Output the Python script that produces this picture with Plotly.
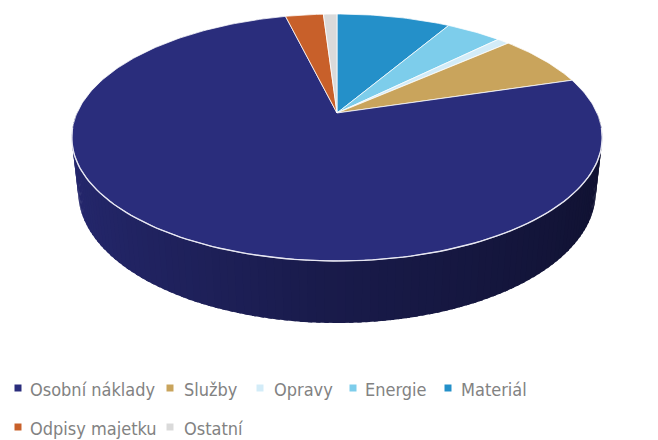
import numpy as np
import plotly.graph_objects as go

# ---- data ----
categories = ["Osobní náklady", "Služby", "Opravy", "Energie", "Materiál", "Odpisy majetku", "Ostatní"]
values = [76.0, 6.9, 0.9, 4.1, 8.4, 2.8, 1.0]
colors = ["#2a2d7c", "#c9a45c", "#d3ecf8", "#7dcdeb", "#2490c9", "#c8602a", "#dadada"]
# slice order going clockwise from 12 o'clock on the pie
draw_order = ["Materiál", "Energie", "Opravy", "Služby", "Osobní náklady", "Odpisy majetku", "Ostatní"]

# ---- layout geometry (page body has an 8px offset) ----
OFF = 8.0
W, H = 658 - 8, 440 - 8
CX, CY = 337.0 - OFF, 113.0 - OFF      # apex position
SCALE = 260.0
SIN_A, COS_A = 0.4563, 0.8898
DIST = 4.485
DEPTH = 0.2367

# legend placement: (swatch x, text x, row y) in page pixels
legend_pos = [(18, 28, 389), (170, 182, 389), (260, 272, 389), (353, 363, 389),
              (448, 459, 389), (18, 28, 428), (170, 182, 428)]
FONT = "DejaVu Sans Condensed, Liberation Sans Narrow, Roboto, sans-serif"


def proj(theta_deg, r=1.0, y=0.0):
    t = np.radians(theta_deg)
    X = r * np.sin(t)
    Z = r * np.cos(t)
    v = y * COS_A + Z * SIN_A
    w = Z * COS_A - y * SIN_A
    f = DIST / (DIST + w)
    return CX + SCALE * X * f, CY - SCALE * v * f


def hex_to_rgb(h):
    h = h.lstrip("#")
    return tuple(int(h[i:i + 2], 16) for i in (0, 2, 4))


def shade(hexcol, k):
    r, g, b = hex_to_rgb(hexcol)
    return "rgb(%d,%d,%d)" % (min(255, r * k), min(255, g * k), min(255, b * k))


val_of = dict(zip(categories, values))
col_of = dict(zip(categories, colors))
total = sum(values)

spans = []
start = 0.0
for name in draw_order:
    ang = val_of[name] / total * 360.0
    spans.append((name, start, start + ang))
    start += ang


def slice_at(theta):
    th = theta % 360.0
    for name, a, b in spans:
        if a <= th < b:
            return name
    return spans[-1][0]


fig = go.Figure()

# ---- side wall (front half), drawn back-to-front ----
step = 1.5
thetas = np.arange(90.0, 270.0, step)
thetas = sorted(thetas, key=lambda t: -abs(t + step / 2 - 180.0))
for t0 in thetas:
    t1 = t0 + step + 0.8
    ts = np.linspace(t0, t1, 4)
    xt, yt = proj(ts)
    xb, yb = proj(ts[::-1], y=-DEPTH)
    xs = list(xt) + list(xb)
    ys = list(yt) + list(yb)
    X = np.sin(np.radians(t0 + step / 2))
    k = 0.6 - 0.29 * X if X < 0 else 0.6 - 0.2 * X
    c = shade(col_of[slice_at(t0 + step / 2)], k)
    fig.add_trace(go.Scatter(x=xs, y=ys, mode="lines", fill="toself", fillcolor=c,
                             line=dict(width=0, color=c), hoverinfo="skip", showlegend=False))

# ---- top face slices ----
for name, a, b in spans:
    ts = np.linspace(a, b, max(4, int((b - a) / 1.0) + 2))
    xa, ya = proj(ts)
    xs = [CX] + list(xa) + [CX]
    ys = [CY] + list(ya) + [CY]
    fig.add_trace(go.Scatter(x=xs, y=ys, mode="lines", fill="toself", fillcolor=col_of[name],
                             line=dict(width=1, color="rgba(255,255,255,0.75)"),
                             hoverinfo="skip", showlegend=False))

# highlight rim on the front edge of the top face
ts = np.linspace(97, 263, 120)
xr, yr = proj(ts)
fig.add_trace(go.Scatter(x=list(xr), y=list(yr), mode="lines",
                         line=dict(width=1.4, color="rgba(235,235,245,0.9)"),
                         hoverinfo="skip", showlegend=False))

# ---- legend (swatches + labels) ----
fig.add_trace(go.Scatter(
    x=[p[0] - OFF for p in legend_pos], y=[p[2] - OFF - 1 for p in legend_pos],
    mode="markers", marker=dict(symbol="square", size=7, color=colors),
    hoverinfo="skip", showlegend=False))
for name, (sx, tx, ry) in zip(categories, legend_pos):
    fig.add_annotation(x=tx - OFF, y=ry - OFF, xref="x", yref="y", text=name,
                       showarrow=False, xanchor="left", yanchor="middle",
                       font=dict(family=FONT, size=18, color="#828282"))

fig.update_layout(
    width=W, height=H,
    margin=dict(l=0, r=0, t=0, b=0, pad=0, autoexpand=False),
    paper_bgcolor="white", plot_bgcolor="white",
    xaxis=dict(range=[0, W], visible=False, fixedrange=True),
    yaxis=dict(range=[H, 0], visible=False, fixedrange=True),
    hovermode=False,
    showlegend=False,
    font=dict(family=FONT),
)

fig.write_html("out.html")
